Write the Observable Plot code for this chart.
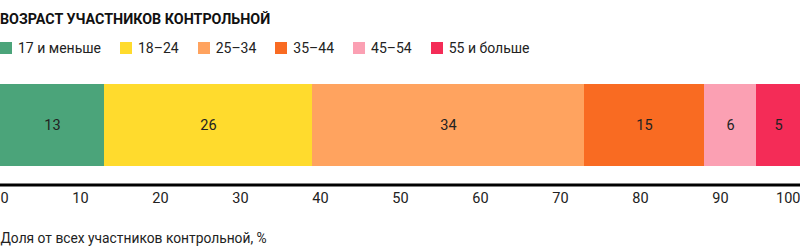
<!DOCTYPE html>
<html>
<head>
<meta charset="utf-8">
<script src="https://cdn.jsdelivr.net/npm/d3@7"></script>
<script src="https://cdn.jsdelivr.net/npm/@observablehq/plot@0.6"></script>
<style>
  html, body { margin: 0; padding: 0; background: #fff; }
  body { width: 800px; height: 250px; position: relative; font-family: Roboto, sans-serif; color: #222; overflow: hidden; }
  #title { position: absolute; left: 0; top: 8.5px; font-size: 14.3px; line-height: 20px; font-weight: 700; color: #111; }
  #legend { position: absolute; left: 0; top: 37.6px; display: flex; font-size: 14px; line-height: 20px; }
  .item { display: flex; align-items: center; margin-right: 19px; }
  .sw { width: 12px; height: 12px; margin-right: 6px; }
  #chart { position: absolute; left: 0; top: 70px; }
  #chart svg { overflow: visible; }
</style>
</head>
<body>
<div id="title"></div>
<div id="legend"></div>
<div id="chart"></div>
<script>
const title = "ВОЗРАСТ УЧАСТНИКОВ КОНТРОЛЬНОЙ";
const categories = ["17 и меньше", "18–24", "25–34", "35–44", "45–54", "55 и больше"];
const values = [13, 26, 34, 15, 6.5, 5.5];
const valueLabels = ["13", "26", "34", "15", "6", "5"];
const colors = ["#4ba47a", "#ffdb2d", "#ffa35f", "#f96b22", "#fba0b3", "#f42c57"];
const ticks = [0, 10, 20, 30, 40, 50, 60, 70, 80, 90, 100];
const xLabel = "Доля от всех участников контрольной, %";

document.getElementById("title").textContent = title;
const legend = document.getElementById("legend");
categories.forEach((c, i) => {
  const it = document.createElement("div");
  it.className = "item";
  const sw = document.createElement("div");
  sw.className = "sw";
  sw.style.background = colors[i];
  const t = document.createElement("span");
  t.textContent = c;
  it.append(sw, t);
  legend.append(it);
});

const ends = Array.from(d3.cumsum(values));
const data = categories.map((c, i) => ({
  category: c,
  x1: ends[i] - values[i],
  x2: ends[i],
  label: valueLabels[i]
}));

const font = "Roboto, sans-serif";
const fs = 14.5;
const chart = Plot.plot({
  width: 800,
  height: 180,
  marginLeft: 0, marginRight: 0, marginTop: 0, marginBottom: 0,
  style: { fontFamily: font, fontSize: "14px", color: "#222", background: "transparent" },
  x: { domain: [0, 100], range: [0, 800], axis: null },
  y: { domain: [0, 180], range: [0, 180], axis: null },
  color: { domain: categories, range: colors },
  marks: [
    Plot.rect(data, { x1: "x1", x2: "x2", y1: 14, y2: 96, fill: "category" }),
    Plot.text(data, { x: d => (d.x1 + d.x2) / 2, y: 55, text: "label", fill: "#222", fontSize: fs }),
    Plot.ruleY([114.5], { stroke: "#000", strokeWidth: 3 }),
    Plot.text(ticks.filter(t => t === 0), { x: d => d, y: 128, text: d => String(d), textAnchor: "start", fill: "#222", fontSize: fs }),
    Plot.text(ticks.filter(t => t > 0 && t < 100), { x: d => d, y: 128, text: d => String(d), textAnchor: "middle", fill: "#222", fontSize: fs }),
    Plot.text(ticks.filter(t => t === 100), { x: d => d, y: 128, text: d => String(d), textAnchor: "end", fill: "#222", fontSize: fs }),
    Plot.text([xLabel], { x: 0, y: 168, text: d => d, textAnchor: "start", fill: "#222", fontSize: 13.8 })
  ]
});
document.getElementById("chart").append(chart);
</script>
</body>
</html>
